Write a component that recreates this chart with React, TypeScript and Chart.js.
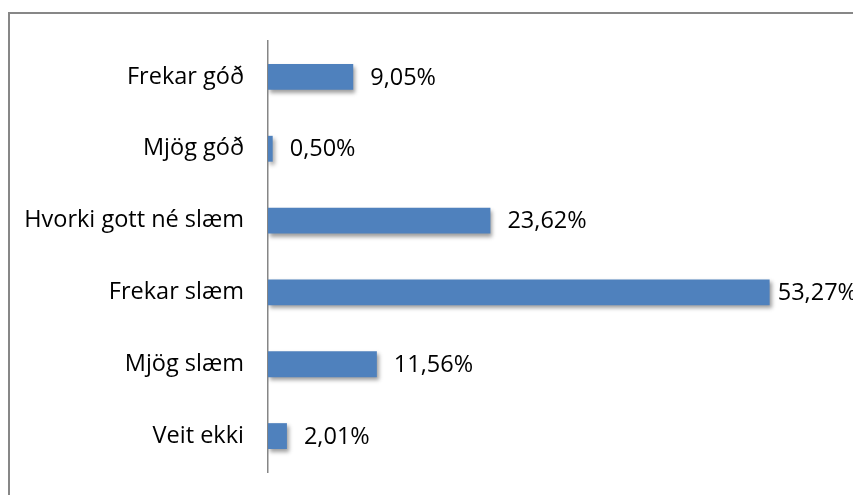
import React, { useEffect, useRef } from "react";
import { Chart, registerables } from "chart.js";

Chart.register(...registerables);

const categories = ["Frekar góð", "Mjög góð", "Hvorki gott né slæm", "Frekar slæm", "Mjög slæm", "Veit ekki"];
const values = [9.05, 0.5, 23.62, 53.27, 11.56, 2.01];
const valueLabels = ["9,05%", "0,50%", "23,62%", "53,27%", "11,56%", "2,01%"];

const FONT = "'Open Sans', sans-serif";
const FONT_SIZE = 23.5;

const shadowPlugin = {
  id: "barShadow",
  beforeDatasetsDraw(chart: any) {
    const ctx = chart.ctx;
    ctx.save();
    ctx.shadowColor = "rgba(0,0,0,0.38)";
    ctx.shadowBlur = 4;
    ctx.shadowOffsetX = 2;
    ctx.shadowOffsetY = 3;
  },
  afterDatasetsDraw(chart: any) {
    chart.ctx.restore();
  },
};

const labelPlugin = {
  id: "valueLabels",
  afterDraw(chart: any) {
    const ctx = chart.ctx;
    const meta = chart.getDatasetMeta(0);
    ctx.save();
    ctx.font = `${FONT_SIZE}px ${FONT}`;
    ctx.fillStyle = "#000";
    ctx.textBaseline = "middle";
    ctx.textAlign = "left";
    meta.data.forEach((bar: any, i: number) => {
      const text = valueLabels[i];
      const w = ctx.measureText(text).width;
      const x = Math.min(bar.x + 17, chart.width - w + 4);
      ctx.fillText(text, x, bar.y + 1);
    });
    ctx.restore();
  },
};

export default function App() {
  const ref = useRef<HTMLCanvasElement>(null);
  useEffect(() => {
    if (!ref.current) return;
    const chart = new Chart(ref.current, {
      type: "bar",
      data: {
        labels: categories,
        datasets: [
          {
            data: values,
            backgroundColor: "#4F81BD",
            borderWidth: 0,
            barPercentage: 0.36,
            categoryPercentage: 1,
          },
        ],
      },
      options: {
        indexAxis: "y",
        responsive: false,
        animation: false,
        layout: { padding: { left: 0, top: 41, right: 20, bottom: 23 } },
        plugins: { legend: { display: false }, tooltip: { enabled: false } },
        scales: {
          x: { display: false, min: 0, max: 60 },
          y: {
            grid: { display: false, drawTicks: false },
            border: { display: true, color: "#868686", width: 1.5 },
            ticks: {
              padding: 24,
              color: "#000",
              font: { family: FONT, size: FONT_SIZE },
            },
            afterFit(scale: any) {
              scale.width = 268;
              scale.paddingTop = 0;
              scale.paddingBottom = 0;
            },
          },
        },
      },
      plugins: [shadowPlugin, labelPlugin],
    });
    return () => chart.destroy();
  }, []);
  return (
    <>
      <div
        style={{
          position: "fixed",
          left: 8,
          top: 12,
          width: 900,
          height: 600,
          borderTop: "2px solid #878787",
          borderLeft: "2px solid #878787",
          boxSizing: "border-box",
        }}
      />
      <canvas
        ref={ref}
        width={853}
        height={495}
        style={{ position: "fixed", left: 0, top: 0, width: 853, height: 495 }}
      />
    </>
  );
}
